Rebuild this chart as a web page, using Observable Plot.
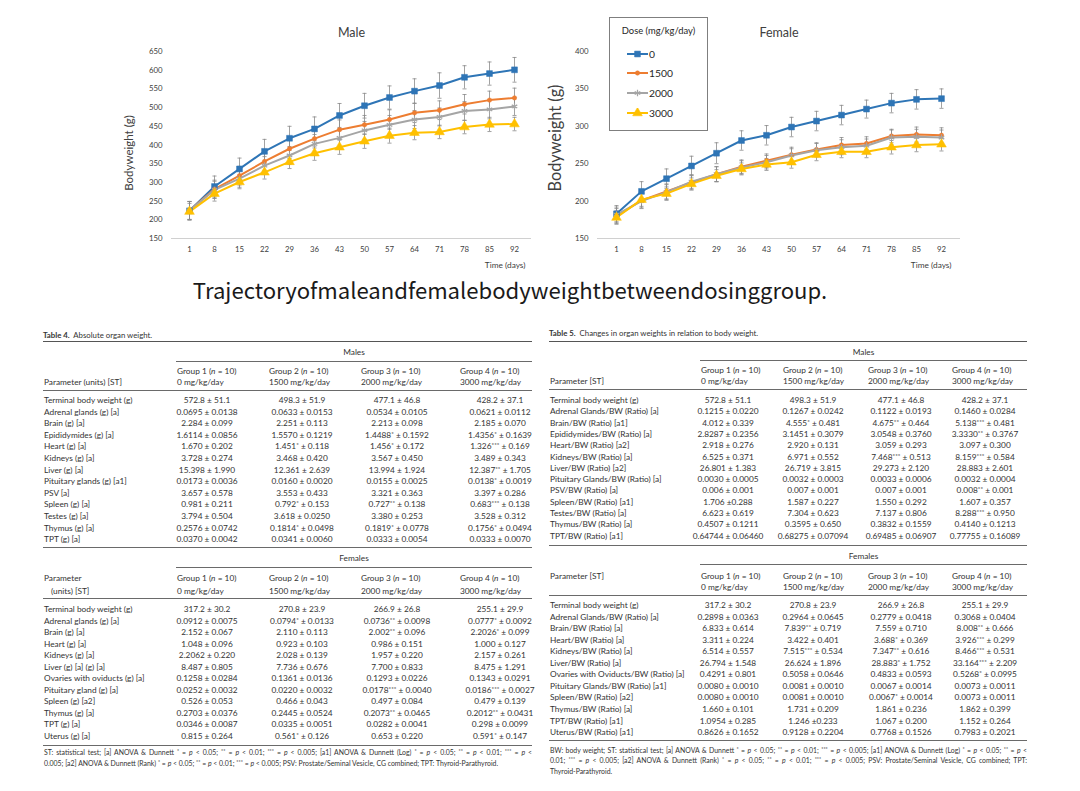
<!DOCTYPE html>
<html><head><meta charset="utf-8">
<script src="https://cdn.jsdelivr.net/npm/d3@7"></script>
<script src="https://cdn.jsdelivr.net/npm/@observablehq/plot@0.6"></script>
<style>
html,body{margin:0;padding:0;background:#fff;}
body{width:1080px;height:791px;position:relative;overflow:hidden;font-family:Lato,"Liberation Sans",sans-serif;}
.chart{position:absolute;top:15px;}
.abs{position:absolute;white-space:nowrap;line-height:12px;}
.tbl{color:#333;}
.rule{position:absolute;height:0;}
sup{font-size:0.75em;vertical-align:0.4em;line-height:0;}
#caption{position:absolute;left:0;width:1020px;top:276px;text-align:center;font-family:"Noto Sans CJK SC","Noto Sans",sans-serif;font-size:22.1px;line-height:27px;color:#1a1a1a;}
#legend{position:absolute;left:609px;top:17px;width:97px;height:112px;border:1px solid #7f7f7f;background:#fff;color:#262626;}
</style></head><body>
<div id="male" class="chart" style="left:100px"></div>
<div id="female" class="chart" style="left:530px"></div>
<div id="legend"></div>
<div id="caption">Trajectoryofmaleandfemalebodyweightbetweendosinggroup.</div>
<div id="tables" class="tbl"></div>
<script>
// ---------- chart data ----------
const days = [1, 8, 15, 22, 29, 36, 43, 50, 57, 64, 71, 78, 85, 92];
const doses = ["0", "1500", "2000", "3000"];
const doseColors = ["#2E75B6", "#ED7D31", "#A5A5A5", "#FFC000"];
const doseSymbols = ["square", "circle", "asterisk", "triangle"];
const maleTicks = [150, 200, 250, 300, 350, 400, 450, 500, 550, 600, 650];
const femaleTicks = [150, 200, 250, 300, 350, 400];

const male0    = [224, 289, 336, 383, 418, 443, 479, 505, 527, 544, 559, 581, 591, 601];
const male1500 = [225, 282, 318, 356, 390, 417, 441, 454, 468, 486, 493, 509, 520, 526];
const male2000 = [225, 280, 310, 345, 372, 403, 419, 439, 454, 468, 475, 491, 495, 503];
const male3000 = [222, 270, 301, 327, 355, 378, 394, 410, 425, 433, 435, 448, 455, 456];
const maleSd0    = [25, 28, 29, 32, 32, 32, 32, 33, 31, 33, 34, 31, 31, 33];
const maleSd1500 = [24, 24, 25, 25, 26, 25, 26, 25, 26, 26, 25, 26, 24, 26];
const maleSd2000 = [24, 23, 23, 24, 24, 25, 24, 24, 25, 24, 24, 25, 25, 24];
const maleSd3000 = [22, 20, 18, 18, 18, 19, 19, 19, 20, 19, 18, 18, 19, 18];

const female0    = [183, 213, 230, 247, 264, 281, 288, 299, 307, 315, 323, 331, 336, 337];
const female1500 = [180, 201, 213, 225, 236, 246, 254, 262, 269, 275, 277, 287, 289, 288];
const female2000 = [182, 200, 212, 226, 236, 245, 252, 261, 268, 272, 274, 285, 286, 285];
const female3000 = [178, 202, 210, 223, 234, 243, 249, 252, 262, 266, 266, 272, 275, 276];
const femaleSd0    = [11, 13, 13, 13, 14, 13, 13, 13, 13, 13, 12, 13, 13, 13];
const femaleSd1500 = [10, 10, 10, 10, 10, 9, 9, 10, 9, 10, 9, 9, 10, 10];
const femaleSd2000 = [10, 10, 10, 9, 10, 9, 9, 9, 9, 10, 9, 10, 10, 10];
const femaleSd3000 = [9, 9, 9, 8, 8, 8, 8, 8, 8, 8, 8, 9, 9, 9];

// ---------- table data ----------
const groupHead1 = ["Group 1 (<i>n</i> = 10)", "Group 2 (<i>n</i> = 10)", "Group 3 (<i>n</i> = 10)", "Group 4 (<i>n</i> = 10)"];
const groupHead2 = ["0 mg/kg/day", "1500 mg/kg/day", "2000 mg/kg/day", "3000 mg/kg/day"];

const t4MaleRows = [
 ["Terminal body weight (g)", "572.8 ± 51.1", "498.3 ± 51.9", "477.1 ± 46.8", "428.2 ± 37.1"],
 ["Adrenal glands (g) [a]", "0.0695 ± 0.0138", "0.0633 ± 0.0153", "0.0534 ± 0.0105", "0.0621 ± 0.0112"],
 ["Brain (g) [a]", "2.284 ± 0.099", "2.251 ± 0.113", "2.213 ± 0.098", "2.185 ± 0.070"],
 ["Epididymides (g) [a]", "1.6114 ± 0.0856", "1.5570 ± 0.1219", "1.4488* ± 0.1592", "1.4356* ± 0.1639"],
 ["Heart (g) [a]", "1.670 ± 0.202", "1.451* ± 0.118", "1.456* ± 0.172", "1.326*** ± 0.169"],
 ["Kidneys (g) [a]", "3.728 ± 0.274", "3.468 ± 0.420", "3.567 ± 0.450", "3.489 ± 0.343"],
 ["Liver (g) [a]", "15.398 ± 1.990", "12.361 ± 2.639", "13.994 ± 1.924", "12.387** ± 1.705"],
 ["Pituitary glands (g) [a1]", "0.0173 ± 0.0036", "0.0160 ± 0.0020", "0.0155 ± 0.0025", "0.0138* ± 0.0019"],
 ["PSV [a]", "3.657 ± 0.578", "3.553 ± 0.433", "3.321 ± 0.363", "3.397 ± 0.286"],
 ["Spleen (g) [a]", "0.981 ± 0.211", "0.792* ± 0.153", "0.727** ± 0.138", "0.683*** ± 0.138"],
 ["Testes (g) [a]", "3.794 ± 0.504", "3.618 ± 0.0250", "3.380 ± 0.253", "3.528 ± 0.312"],
 ["Thymus (g) [a]", "0.2576 ± 0.0742", "0.1814* ± 0.0498", "0.1819* ± 0.0778", "0.1756* ± 0.0494"],
 ["TPT (g) [a]", "0.0370 ± 0.0042", "0.0341 ± 0.0060", "0.0333 ± 0.0054", "0.0333 ± 0.0070"]
];
const t4FemaleRows = [
 ["Terminal body weight (g)", "317.2 ± 30.2", "270.8 ± 23.9", "266.9 ± 26.8", "255.1 ± 29.9"],
 ["Adrenal glands (g) [a]", "0.0912 ± 0.0075", "0.0794* ± 0.0133", "0.0736** ± 0.0098", "0.0777* ± 0.0092"],
 ["Brain (g) [a]", "2.152 ± 0.067", "2.110 ± 0.113", "2.002** ± 0.096", "2.2026* ± 0.099"],
 ["Heart (g) [a]", "1.048 ± 0.096", "0.923 ± 0.103", "0.986 ± 0.151", "1.000 ± 0.127"],
 ["Kidneys (g) [a]", "2.2062 ± 0.220", "2.028 ± 0.139", "1.957 ± 0.220", "2.157 ± 0.261"],
 ["Liver (g) [a] (g) [a]", "8.487 ± 0.805", "7.736 ± 0.676", "7.700 ± 0.833", "8.475 ± 1.291"],
 ["Ovaries with oviducts (g) [a]", "0.1258 ± 0.0284", "0.1361 ± 0.0136", "0.1293 ± 0.0226", "0.1343 ± 0.0291"],
 ["Pituitary gland (g) [a]", "0.0252 ± 0.0032", "0.0220 ± 0.0032", "0.0178*** ± 0.0040", "0.0186*** ± 0.0027"],
 ["Spleen (g) [a2]", "0.526 ± 0.053", "0.466 ± 0.043", "0.497 ± 0.084", "0.479 ± 0.139"],
 ["Thymus (g) [a]", "0.2703 ± 0.0376", "0.2445 ± 0.0524", "0.2073** ± 0.0465", "0.2012** ± 0.0431"],
 ["TPT (g) [a]", "0.0346 ± 0.0087", "0.0335 ± 0.0051", "0.0282 ± 0.0041", "0.298 ± 0.0099"],
 ["Uterus (g) [a]", "0.815 ± 0.264", "0.561* ± 0.126", "0.653 ± 0.220", "0.591* ± 0.147"]
];
const t4Foot = [
 "ST: statistical test; [a] ANOVA &amp; Dunnett * = <i>p</i> &lt; 0.05; ** = <i>p</i> &lt; 0.01; *** = <i>p</i> &lt; 0.005; [a1] ANOVA &amp; Dunnett (Log) * = <i>p</i> &lt; 0.05; ** = <i>p</i> &lt; 0.01; *** = <i>p</i> &lt;",
 "0.005; [a2] ANOVA &amp; Dunnett (Rank) * = <i>p</i> &lt; 0.05; ** = <i>p</i> &lt; 0.01; *** = <i>p</i> &lt; 0.005; PSV: Prostate/Seminal Vesicle, CG combined; TPT: Thyroid-Parathyroid."
];

const t5MaleRows = [
 ["Terminal body weight (g)", "572.8 ± 51.1", "498.3 ± 51.9", "477.1 ± 46.8", "428.2 ± 37.1"],
 ["Adrenal Glands/BW (Ratio) [a]", "0.1215 ± 0.0220", "0.1267 ± 0.0242", "0.1122 ± 0.0193", "0.1460 ± 0.0284"],
 ["Brain/BW (Ratio) [a1]", "4.012 ± 0.339", "4.555* ± 0.481", "4.675** ± 0.464", "5.138*** ± 0.481"],
 ["Epididymides/BW (Ratio) [a]", "2.8287 ± 0.2356", "3.1451 ± 0.3079", "3.0548 ± 0.3760", "3.3330** ± 0.3767"],
 ["Heart/BW (Ratio) [a2]", "2.918 ± 0.276", "2.920 ± 0.131", "3.059 ± 0.293", "3.097 ± 0.300"],
 ["Kidneys/BW (Ratio) [a]", "6.525 ± 0.371", "6.971 ± 0.552", "7.468*** ± 0.513", "8.159*** ± 0.584"],
 ["Liver/BW (Ratio) [a2]", "26.801 ± 1.383", "26.719 ± 3.815", "29.273 ± 2.120", "28.883 ± 2.601"],
 ["Pituitary Glands/BW (Ratio) [a]", "0.0030 ± 0.0005", "0.0032 ± 0.0003", "0.0033 ± 0.0006", "0.0032 ± 0.0004"],
 ["PSV/BW (Ratio) [a]", "0.006 ± 0.001", "0.007 ± 0.001", "0.007 ± 0.001", "0.008** ± 0.001"],
 ["Spleen/BW (Ratio) [a1]", "1.706 ±0.288", "1.587 ± 0.227", "1.550 ± 0.292", "1.607 ± 0.357"],
 ["Testes/BW (Ratio) [a]", "6.623 ± 0.619", "7.304 ± 0.623", "7.137 ± 0.806", "8.288*** ± 0.950"],
 ["Thymus/BW (Ratio) [a]", "0.4507 ± 0.1211", "0.3595 ± 0.650", "0.3832 ± 0.1559", "0.4140 ± 0.1213"],
 ["TPT/BW (Ratio) [a1]", "0.64744 ± 0.06460", "0.68275 ± 0.07094", "0.69485 ± 0.06907", "0.77755 ± 0.16089"]
];
const t5FemaleRows = [
 ["Terminal body weight (g)", "317.2 ± 30.2", "270.8 ± 23.9", "266.9 ± 26.8", "255.1 ± 29.9"],
 ["Adrenal Glands/BW (Ratio) [a]", "0.2898 ± 0.0363", "0.2964 ± 0.0645", "0.2779 ± 0.0418", "0.3068 ± 0.0404"],
 ["Brain/BW (Ratio) [a]", "6.833 ± 0.614", "7.839** ± 0.719", "7.559 ± 0.710", "8.008** ± 0.666"],
 ["Heart/BW (Ratio) [a]", "3.311 ± 0.224", "3.422 ± 0.401", "3.688* ± 0.369", "3.926*** ± 0.299"],
 ["Kidneys/BW (Ratio) [a]", "6.514 ± 0.557", "7.515*** ± 0.534", "7.347** ± 0.616", "8.466*** ± 0.531"],
 ["Liver/BW (Ratio) [a]", "26.794 ± 1.548", "26.624 ± 1.896", "28.883* ± 1.752", "33.164*** ± 2.209"],
 ["Ovaries with Oviducts/BW (Ratio) [a]", "0.4291 ± 0.801", "0.5058 ± 0.0646", "0.4833 ± 0.0593", "0.5268* ± 0.0995"],
 ["Pituitary Glands/BW (Ratio) [a1]", "0.0080 ± 0.0010", "0.0081 ± 0.0010", "0.0067 ± 0.0014", "0.0073 ± 0.0011"],
 ["Spleen/BW (Ratio) [a2]", "0.0080 ± 0.0010", "0.0081 ± 0.0010", "0.0067* ± 0.0014", "0.0073 ± 0.0011"],
 ["Thymus/BW (Ratio) [a]", "1.660 ± 0.101", "1.731 ± 0.209", "1.861 ± 0.236", "1.862 ± 0.399"],
 ["TPT/BW (Ratio) [a1]", "1.0954 ± 0.285", "1.246 ±0.233", "1.067 ± 0.200", "1.152 ± 0.264"],
 ["Uterus/BW (Ratio) [a1]", "0.8626 ± 0.1652", "0.9128 ± 0.2204", "0.7768 ± 0.1526", "0.7983 ± 0.2021"]
];
const t5Foot = [
 "BW: body weight; ST: statistical test; [a] ANOVA &amp; Dunnett * = <i>p</i> &lt; 0.05; ** = <i>p</i> &lt; 0.01; *** = <i>p</i> &lt; 0.005; [a1] ANOVA &amp; Dunnett (Log) * = <i>p</i> &lt; 0.05; ** = <i>p</i> &lt;",
 "0.01; *** = <i>p</i> &lt; 0.005; [a2] ANOVA &amp; Dunnett (Rank) * = <i>p</i> &lt; 0.05; ** = <i>p</i> &lt; 0.01; *** = <i>p</i> &lt; 0.005; PSV: Prostate/Seminal Vesicle, CG combined; TPT:",
 "Thyroid-Parathyroid."
];

// ---------- charts ----------
function buildRows(means, sds) {
  const out = [];
  doses.forEach((dose, i) => days.forEach((day, j) => out.push({day, dose, mean: means[i][j], sd: sds[i][j]})));
  return out;
}
const capSymbol = {draw(ctx, size) { const w = Math.sqrt(size) / 2; ctx.moveTo(-w, 0); ctx.lineTo(w, 0); }};
const symR = {square: 3.3, circle: 2.2, asterisk: 3.0, triangle: 3.6};

function chart({rows, yDomain, yTicks, title, marginLeft, marginRight, labelSize, labelDy, timeDx}) {
  const dotMarks = doses.map((dose, i) => {
    const s = doseSymbols[i];
    const stroked = s === "asterisk";
    return Plot.dot(rows.filter(d => d.dose === dose), {
      x: "day", y: "mean", symbol: () => s, r: symR[s],
      fill: stroked ? "none" : doseColors[i], stroke: doseColors[i], strokeWidth: stroked ? 1.2 : 0.5
    });
  });
  return Plot.plot({
    width: 440, height: 268, marginLeft, marginRight, marginTop: 36, marginBottom: 45,
    style: {fontFamily: "Lato, sans-serif", color: "#404040", background: "transparent", overflow: "visible"},
    x: {type: "point", domain: days, padding: 0.5},
    y: {domain: yDomain},
    color: {domain: doses, range: doseColors},
    symbol: {domain: doses, range: doseSymbols},
    marks: [
      Plot.ruleY([yDomain[0]], {stroke: "#d0d0d0", strokeWidth: 1}),
      Plot.axisY({ticks: yTicks, tickSize: 0, tickPadding: 9, fontSize: 7.8, label: null, fill: "#404040"}),
      Plot.axisX({tickSize: 0, tickPadding: 8, fontSize: 7.8, label: null, fill: "#404040"}),
      Plot.text(["Bodyweight (g)"], {frameAnchor: "left", textAnchor: "middle", rotate: -90, dx: -42, dy: labelDy, fontSize: labelSize, fill: "#404040"}),
      Plot.text(["Time (days)"], {frameAnchor: "bottom-right", textAnchor: "end", dx: timeDx, dy: 29, fontSize: 8.3, fill: "#404040"}),
      Plot.text([title], {frameAnchor: "top", dy: -23, fontSize: 12.5, fill: "#404040"}),
      Plot.ruleX(rows, {x: "day", y1: d => d.mean - d.sd, y2: d => d.mean + d.sd, stroke: "#8a8a8a", strokeWidth: 0.8}),
      Plot.dot(rows, {x: "day", y: d => d.mean + d.sd, symbol: capSymbol, r: 2.3, stroke: "#8a8a8a", strokeWidth: 0.8, fill: "none"}),
      Plot.dot(rows, {x: "day", y: d => d.mean - d.sd, symbol: capSymbol, r: 2.3, stroke: "#8a8a8a", strokeWidth: 0.8, fill: "none"}),
      Plot.line(rows, {x: "day", y: "mean", z: "dose", stroke: "dose", strokeWidth: 2}),
      ...dotMarks
    ]
  });
}

document.getElementById("male").appendChild(chart({
  rows: buildRows([male0, male1500, male2000, male3000], [maleSd0, maleSd1500, maleSd2000, maleSd3000]),
  yDomain: [150, 650], yTicks: maleTicks, title: "Male", marginLeft: 71, marginRight: 9,
  labelSize: 11.5, labelDy: 8, timeDx: -6
}));
document.getElementById("female").appendChild(chart({
  rows: buildRows([female0, female1500, female2000, female3000], [femaleSd0, femaleSd1500, femaleSd2000, femaleSd3000]),
  yDomain: [150, 400], yTicks: femaleTicks, title: "Female", marginLeft: 67, marginRight: 10,
  labelSize: 16.3, labelDy: -7, timeDx: -9
}));

// ---------- legend ----------
(function() {
  const lg = document.getElementById("legend");
  const t = document.createElement("div");
  t.className = "abs"; t.style.cssText = "left:0;width:97px;text-align:center;top:7px;font-size:9.4px;";
  t.textContent = "Dose (mg/kg/day)";
  lg.appendChild(t);
  doses.forEach((dose, i) => {
    const y = 35.5 + i * 19.7;
    const s = doseSymbols[i];
    const stroked = s === "asterisk";
    const sym = d3.symbol(d3["symbol" + s[0].toUpperCase() + s.slice(1)], Math.PI * symR[s] * symR[s])();
    const svg = d3.create("svg").attr("width", 24).attr("height", 10)
      .style("position", "absolute").style("left", "16px").style("top", (y - 5) + "px");
    svg.append("line").attr("x1", 1).attr("x2", 22).attr("y1", 5).attr("y2", 5).attr("stroke", doseColors[i]).attr("stroke-width", 2);
    svg.append("path").attr("d", sym).attr("transform", "translate(11.5,5)")
      .attr("fill", stroked ? "none" : doseColors[i]).attr("stroke", doseColors[i]).attr("stroke-width", stroked ? 1.2 : 0.5);
    lg.appendChild(svg.node());
    const l = document.createElement("div");
    l.className = "abs"; l.style.cssText = `left:39px;top:${y - 6}px;font-size:10.3px;`;
    l.textContent = dose;
    lg.appendChild(l);
  });
})();

// ---------- tables ----------
const root = document.getElementById("tables");
function fmt(s) { return s.replace(/\*+/g, m => `<sup>${m}</sup>`); }
function put(html, x, y, {anchor = "start", size = 8.3, weight = 400} = {}) {
  const el = document.createElement("div");
  el.className = "abs";
  el.innerHTML = html;
  el.style.left = x + "px";
  el.style.top = (y - 6) + "px";
  el.style.fontSize = size + "px";
  el.style.fontWeight = weight;
  if (anchor === "middle") el.style.transform = "translateX(-50%)";
  root.appendChild(el);
  return el;
}
function justifyLine(el, target) {
  const spaces = (el.textContent.match(/ /g) || []).length;
  const w = el.getBoundingClientRect().width;
  if (spaces > 0) el.style.wordSpacing = ((target - w) / spaces) + "px";
}
function rule(x1, x2, y, w = 0.8, c = "#6a6a6a") {
  const el = document.createElement("div");
  el.className = "rule";
  el.style.cssText = `left:${x1}px;width:${x2 - x1}px;top:${y}px;border-top:${w}px solid ${c};`;
  root.appendChild(el);
}
function section(T, S, label, rows, paramHead) {
  put(label, (T.underLeft + T.right) / 2, S.headY, {anchor: "middle"});
  rule(T.underLeft, T.right, S.underY, 0.8);
  groupHead1.forEach((g, i) => put(g, T.colLeft[i], S.g1Y));
  groupHead2.forEach((g, i) => put(g, T.colLeft[i], S.g2Y));
  paramHead.forEach(([txt, dx, y]) => put(txt, T.left + 1 + dx, S[y]));
  rule(T.left, T.right, S.ruleY, 1);
  rows.forEach((r, k) => {
    const y = S.row0 + k * S.pitch;
    put(r[0], T.left + 1, y);
    for (let i = 1; i <= 4; i++) put(fmt(r[i]), T.colCenter[i - 1], y, {anchor: "middle"});
  });
  rule(T.left, T.right, S.endRule, 1);
}
function table(T, num, caption, maleRows, femaleRows, mHead, fHead, foot) {
  put(`<b>Table ${num}.</b>&nbsp; ${caption}`, T.left, T.titleY, {size: 7.8});
  rule(T.left, T.right, T.topRule, 1.2, "#555");
  section(T, T.male, "Males", maleRows, mHead);
  section(T, T.female, "Females", femaleRows, fHead);
  foot.forEach((line, i) => {
    const el = put(fmt(line), T.left + 1, T.footY[i], {size: 6.9});
    if (i < foot.length - 1) justifyLine(el, T.right - T.left - 1);
  });
}

table({
  left: 43, right: 532, titleY: 335, topRule: 341, underLeft: 176,
  colLeft: [177, 269, 361, 460], colCenter: [207, 302, 397, 500],
  male: {headY: 352, underY: 360.5, g1Y: 370.7, g2Y: 381.7, ruleY: 389.5, row0: 400, pitch: 11.6, endRule: 546.5},
  female: {headY: 558, underY: 566.5, g1Y: 578.3, g2Y: 590.5, ruleY: 597.5, row0: 609, pitch: 11.5, endRule: 744.5},
  footY: [752, 763]
}, 4, "Absolute organ weight.", t4MaleRows, t4FemaleRows,
  [["Parameter (units) [ST]", 0, "g2Y"]], [["Parameter", 0, "g1Y"], ["(units) [ST]", 7, "g2Y"]], t4Foot);

table({
  left: 549, right: 1027, titleY: 333, topRule: 341, underLeft: 700,
  colLeft: [701, 783, 868, 952], colCenter: [728, 813, 901, 985],
  male: {headY: 351.7, underY: 359.5, g1Y: 370, g2Y: 381, ruleY: 388.5, row0: 400, pitch: 11.3, endRule: 544.5},
  female: {headY: 556, underY: 563.5, g1Y: 575.7, g2Y: 586.7, ruleY: 595, row0: 605, pitch: 11.55, endRule: 740},
  footY: [750, 760.3, 770.6]
}, 5, "Changes in organ weights in relation to body weight.", t5MaleRows, t5FemaleRows,
  [["Parameter [ST]", 0, "g2Y"]], [["Parameter [ST]", 0, "g1Y"]], t5Foot);
</script>
</body></html>
